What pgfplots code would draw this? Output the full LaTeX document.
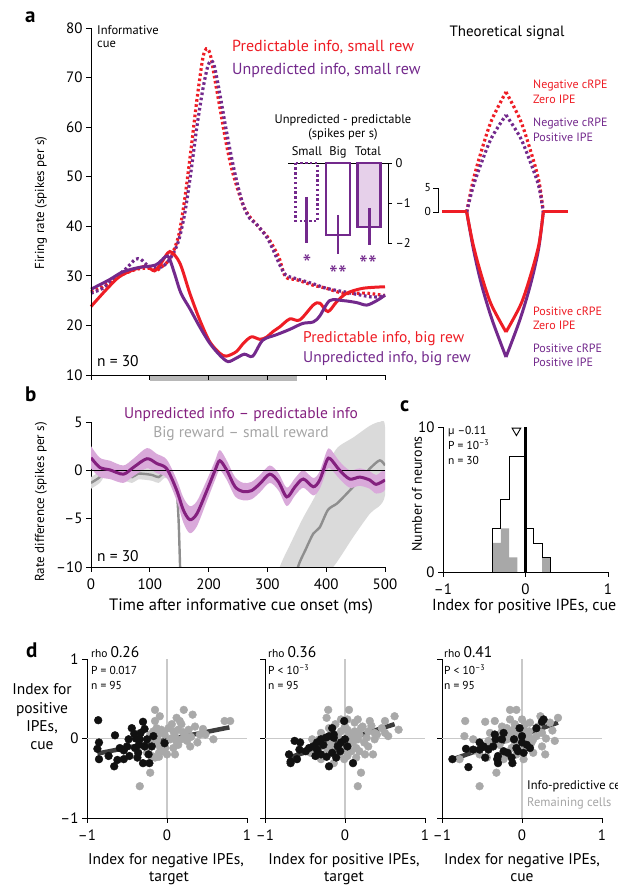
\documentclass[border=0pt]{standalone}
\usepackage{pgfplots}
\pgfplotsset{compat=1.18}
\usepackage{pgfplotstable}
\usepackage{fontspec}
\setmainfont{PT Sans}
\definecolor{myred}{HTML}{EE1D25}
\definecolor{mypurple}{HTML}{73298C}
\definecolor{bpurple}{HTML}{84207F}
\definecolor{bband}{HTML}{D9A9DA}
\definecolor{tfill}{HTML}{E6D0EA}
\definecolor{gline}{HTML}{8E8E8E}
\definecolor{gband}{HTML}{DADADA}
\definecolor{gtext}{HTML}{A5A5A5}
\definecolor{cgray}{HTML}{A8A8A8}
\definecolor{dgray}{HTML}{A9A9A9}
\definecolor{dblack}{HTML}{111111}
\definecolor{gridc}{HTML}{C9C9C9}
\definecolor{regl}{HTML}{3D3D3D}
\definecolor{barc}{HTML}{B8B8B8}
\newcommand\fs[1]{\fontsize{#1}{#1}\selectfont}
\pgfplotsset{
  base/.style={scale only axis, anchor=south west,
    axis x line*=bottom, axis y line*=left,
    axis line style={-, line width=0.9pt, black},
    every tick/.style={line width=0.9pt, black},
    major tick length=5pt, tick align=outside,
    ticklabel style={font=\fs{15}}},
  dotline/.style={line width=3.2pt, dash pattern=on 2.6pt off 2.6pt},
  dax/.style={base, width=160pt, height=159pt, xmin=-1, xmax=1, ymin=-1, ymax=1,
    xtick={-1,0,1}, xticklabels={–1,0,1}, xticklabel style={yshift=-3pt}, ytick={-1,0,1}, clip=false},
  gpts/.style={only marks, mark=*, mark size=3.9pt, mark options={fill=dgray, draw=dgray}},
  kpts/.style={only marks, mark=*, mark size=3.9pt, mark options={fill=dblack, draw=dblack}},
}
\pgfplotstableread{
t m
0 1.3
15 0.3
32 0.05
55 -0.4
72 0.3
95 1.2
112 0.7
129 0.15
146 -2.1
157 -4.1
168 -5.1
180 -4.5
197 -2.1
211 0
219 1.0
231 0
245 -1.7
259 -2.2
273 -2.1
287 -1.4
304 -0.4
319 -1.2
333 -2.75
347 -1.7
361 -0.9
378 -1.7
389 -1.0
401 1.0
407 1.2
423 0
440 -0.9
457 -0.7
474 -1.0
485 -1.45
500 -1.0
}\bpurp
\pgfplotstableread{
t m
0 -1.3
15 -0.7
25 0.05
40 0
55 -0.4
70 -0.7
80 -0.35
95 -0.4
105 -0.5
115 -0.7
125 -0.2
135 -0.4
141 -1.0
146 -2.4
149 -5.2
151.5 -10
153 -13
}\bgrayA
\pgfplotstableread{
t m
345 -12.5
352 -10
365 -8.2
378 -6.55
389 -5.9
403 -4.1
418 -3.45
432 -2.6
446 -1.7
460 -0.8
474 0.17
491 1.03
500 0.5
}\bgrayBm
\begin{document}
\begin{tikzpicture}[x=1pt,y=1pt]
\useasboundingbox (0,0) rectangle (618,886);

%%%%%%%% Panel a main
\begin{axis}[base, at={(91pt,511pt)}, width=294pt, height=347pt,
  xmin=0, xmax=500, ymin=10, ymax=80,
  xtick={0,100,200,300,400,500}, xticklabels={},
  ytick={10,20,30,40,50,60,70,80}, yticklabels={10,20,30,40,50,60,70,80},
  clip=false, axis on top]
\fill[barc] (axis cs:100,10) rectangle (axis cs:350,8.7);
\addplot[myred, dotline, smooth] coordinates {(0,26.8) (20,27.8) (40,29.5) (60,30.6) (80,31.4) (100,31.5) (110,31.0) (120,31.8) (130,32.8) (140,34.9) (150,38.6) (160,46) (170,55.4) (180,65.4) (190,73.8) (196,75.8) (201,75.3) (205,73.5) (210,70.1) (220,63.4) (230,56.7) (240,51.3) (250,47.3) (260,43.9) (270,41.9) (280,40.6) (290,39.2) (300,37.9) (310,35.9) (320,33.6) (331,29.8) (350,29.2) (378,28.1) (400,27.5) (429,26.5) (469,26.5) (500,26.0)};
\addplot[mypurple, dotline, smooth] coordinates {(0,26.5) (20,27.5) (40,29.5) (60,31.5) (75,33.3) (85,33.3) (100,31.8) (120,31.8) (130,32.8) (140,34.5) (150,37.5) (160,43) (170,51) (180,60) (190,67.5) (198,72) (204,73.4) (210,72.2) (220,66.1) (230,59.4) (240,53.3) (250,48.0) (260,43.9) (270,41.6) (280,40.6) (290,39.2) (300,37.6) (310,35.2) (320,32.5) (331,30.2) (350,29.4) (378,28.4) (400,27.5) (434,26.7) (480,25.7) (500,26.1)};
\addplot[myred, line width=3pt, smooth] coordinates {(0,23.8) (25,27.1) (48,29.8) (74,31.3) (94,31.9) (108,31.0) (119,32.5) (134,34.9) (151,32.6) (168,26.5) (185,21.1) (202,16.7) (219,14.4) (230,13.8) (247,14.7) (260,16.5) (273,17.7) (287,17.2) (298,17.6) (310,18.8) (321,19.7) (338,21.3) (355,21.1) (378,24.1) (389,24.5) (403,22.8) (418,24.8) (435,26.5) (463,27.5) (500,27.8)};
\addplot[mypurple, line width=3pt, smooth] coordinates {(0,27.3) (31,29.2) (54,30.8) (82,31.7) (110,32.2) (127,33.9) (133,33.6) (142,30.5) (153,26.5) (168,23.4) (185,19.7) (202,16.4) (219,14.0) (233,12.7) (247,13.4) (261,14.2) (275,13.8) (292,17.0) (315,18.1) (338,19.2) (360,20.4) (378,20.7) (389,21.9) (406,25.0) (429,25.0) (452,24.6) (469,24.1) (486,25.0) (500,26.1)};
\end{axis}

%%%%%%%% Inset
\begin{axis}[scale only axis, anchor=south west, at={(288pt,643pt)}, width=100pt, height=80pt,
  xmin=-0.6, xmax=2.6, ymin=-2, ymax=0,
  axis x line*=top, axis y line*=right, axis line style={-, line width=0.9pt, black},
  xtick=\empty, ytick={-2,-1,0}, yticklabels={–2,–1,0},
  every tick/.style={line width=0.9pt, black}, major tick length=4pt, tick align=outside,
  ticklabel style={font=\fs{12.5}}, clip=false]
\addplot[ybar, bar width=0.71, bar shift=0pt, draw=mypurple, fill=none, line width=2.8pt, dash pattern=on 2.4pt off 2.4pt] coordinates {(0,-1.45)};
\addplot[ybar, bar width=0.77, bar shift=0pt, draw=mypurple, fill=white, line width=2.8pt] coordinates {(1,-1.8)};
\addplot[ybar, bar width=0.74, bar shift=0pt, draw=mypurple, fill=tfill, line width=2.8pt] coordinates {(2,-1.6)};
\addplot[mypurple, line width=2.8pt] coordinates {(0,-0.85) (0,-2.0)};
\addplot[mypurple, line width=2.8pt] coordinates {(1,-1.3) (1,-2.28)};
\addplot[mypurple, line width=2.8pt] coordinates {(2,-1.13) (2,-2.05)};
\end{axis}

%%%%%%%% Theoretical signal
\begin{axis}[scale only axis, hide axis, anchor=south west, at={(442pt,519pt)}, width=126pt, height=285pt,
  xmin=0, xmax=126, ymin=-31, ymax=26, clip=false]
\addplot[mypurple, line width=3pt, smooth] coordinates {(24.7,0) (31.5,-7.5) (39.5,-14.5) (50,-21.5) (64,-29)};
\addplot[mypurple, line width=3pt, smooth] coordinates {(64,-29) (78,-21.5) (88.5,-14.5) (96.5,-7.5) (101.3,0)};
\addplot[myred, line width=3pt, smooth] coordinates {(24.7,0) (31,-6.4) (39,-12.4) (49,-18.4) (64,-24)};
\addplot[myred, line width=3pt, smooth] coordinates {(64,-24) (79,-18.4) (89,-12.4) (97,-6.4) (101.3,0)};
\addplot[myred, dotline, smooth] coordinates {(24.7,0) (31.3,6.4) (39.7,12.4) (49.7,18.4) (64,24)};
\addplot[myred, dotline, smooth] coordinates {(64,24) (78.3,18.4) (88.3,12.4) (96.7,6.4) (101.3,0)};
\addplot[mypurple, dotline, smooth] coordinates {(24.7,0) (31.3,5.2) (39.7,10) (49.7,14.9) (64,19.4)};
\addplot[mypurple, dotline, smooth] coordinates {(64,19.4) (78.3,14.9) (88.3,10) (96.7,5.2) (101.3,0)};
\addplot[myred, line width=3pt] coordinates {(0,0) (25,0)};
\addplot[myred, line width=3pt] coordinates {(101,0) (126,0)};
\end{axis}

%%%%%%%% Panel b
\begin{axis}[base, at={(91pt,319pt)}, width=294pt, height=145pt,
  xmin=0, xmax=500, ymin=-10, ymax=5,
  xtick={0,100,200,300,400,500}, xticklabels={0,100,200,300,400,500},
  xticklabel style={yshift=-3pt},
  ytick={-10,-5,0,5}, yticklabels={–10,–5,0,5}]
\addplot[fill=gband, draw=none, smooth] coordinates {(0,-0.7) (15,-0.1) (25,0.6) (40,0.6) (55,0.2) (70,-0.1) (80,0.25) (95,0.2) (105,0.1) (115,-0.1) (125,0.4) (135,0.2) (141,-0.4) (146,-1.6) (149,-4.2) (151.5,-9) (153,-12) (153,-14) (151.5,-11) (149,-6.2) (146,-3.2) (141,-1.7) (135,-1.0) (125,-0.8) (115,-1.3) (105,-1.1) (95,-1.0) (80,-0.95) (70,-1.3) (55,-1.0) (40,-0.6) (25,-0.5) (15,-1.3) (0,-1.9)};
\addplot[fill=gband, draw=none, smooth] coordinates {(300,-14) (321,-10) (340,-7.5) (360,-5) (380,-2.8) (389,-1.5) (406,1.0) (420,2.4) (446,3.4) (474,4.6) (491,5.0) (500,4.5) (500,-2.6) (474,-4.5) (446,-6.9) (412,-10) (389,-11) (300,-20)};
\addplot[gline, line width=2.4pt, smooth] table[x=t, y=m] {\bgrayA};
\addplot[gline, line width=2.4pt, smooth] table[x=t, y=m] {\bgrayBm};
\addplot[fill=bband, draw=none, smooth] coordinates {(0,2.5) (15,1.3) (32,1.0) (55,0.5) (72,1.2) (95,2.3) (112,1.7) (129,1.1) (146,-1.0) (157,-2.8) (168,-3.7) (180,-3.2) (197,-1.0) (211,1.0) (219,2.1) (231,1.0) (245,-0.7) (259,-1.3) (273,-1.2) (287,-0.5) (304,0.5) (319,-0.3) (333,-1.8) (347,-0.8) (361,0.0) (378,-0.8) (389,-0.1) (401,2.0) (407,2.2) (423,0.9) (440,0.0) (457,0.2) (474,-0.1) (485,-0.5) (500,0.0) (500,-2.0) (485,-2.4) (474,-1.9) (457,-1.6) (440,-1.8) (423,-0.9) (407,0.2) (401,0.0) (389,-1.9) (378,-2.6) (361,-1.8) (347,-2.6) (333,-3.7) (319,-2.1) (304,-1.3) (287,-2.3) (273,-3.0) (259,-3.1) (245,-2.7) (231,-1.0) (219,0.0) (211,-1.0) (197,-3.2) (180,-5.8) (168,-6.5) (157,-5.4) (146,-3.2) (129,-0.8) (112,-0.3) (95,0.2) (72,-0.6) (55,-1.3) (32,-0.9) (15,-0.7) (0,0.2)};
\addplot[black, line width=0.8pt] coordinates {(0,0) (500,0)};
\addplot[bpurple, line width=3pt, smooth] table[x=t, y=m] {\bpurp};
\end{axis}

%%%%%%%% Panel c
\begin{axis}[base, at={(443pt,314pt)}, width=165pt, height=145pt,
  xmin=-1, xmax=1, ymin=0, ymax=10,
  xtick={-1,0,1}, xticklabels={–1,0,1}, xticklabel style={yshift=-3pt},
  ytick={0,10}, yticklabels={0,10}, clip=false]
\addplot[fill=cgray, draw=none] coordinates {(-0.4,0) (-0.4,2) (-0.3,2) (-0.3,3) (-0.2,3) (-0.2,1) (-0.1,1) (-0.1,0)};
\addplot[fill=cgray, draw=none] coordinates {(0.2,0) (0.2,1) (0.3,1) (0.3,0)};
\addplot[black, line width=0.9pt] coordinates {(-0.4,0) (-0.4,3) (-0.3,3) (-0.3,5) (-0.2,5) (-0.2,8) (0,8) (0,3) (0.1,3) (0.1,2) (0.2,2) (0.2,1) (0.3,1) (0.3,0)};
\addplot[black, line width=3pt] coordinates {(0,0) (0,10)};
\addplot[only marks, mark=triangle, mark size=5pt, mark options={rotate=180, line width=0.9pt, fill=white, draw=black}] coordinates {(-0.11,9.75)};
\end{axis}

%%%%%%%% Panel d1
\begin{axis}[dax, at={(87pt,68pt)}, yticklabels={–1,0,1}]
\addplot[gridc, line width=1.4pt] coordinates {(0,-1) (0,1)};
\addplot[gridc, line width=1.4pt] coordinates {(-1,0) (1,0)};
\addplot[gpts] coordinates {(-0.34,-0.60) (-0.21,-0.43) (-0.15,0.36) (-0.09,0.28) (-0.15,0.22) (-0.13,0.13) (-0.17,0.09) (-0.11,0.05) (-0.21,0.05) (-0.07,0.11) (0.02,0.13) (0.08,0.09) (0.12,0.26) (0.21,0.36) (0.32,0.30) (0.18,0.18) (0.27,0.11) (0.41,0.05) (0.58,-0.01) (-0.13,-0.03) (-0.09,-0.10) (-0.05,-0.16) (0.0,-0.20) (0.08,-0.12) (0.14,-0.08) (0.18,-0.01) (0.23,0.03) (0.29,-0.10) (0.04,-0.01) (-0.25,-0.18) (-0.19,-0.22) (-0.15,-0.24) (-0.10,-0.23) (0.10,0.03) (0.25,-0.03) (0.14,0.11) (-0.03,0.05) (0.48,0.05) (0.72,0.22) (0.79,0.22) (-0.12,0.0) (-0.05,0.08) (0.05,0.0) (0.12,-0.04) (0.2,0.08) (0.3,0.02) (-0.02,-0.12) (0.1,-0.2) (0.35,0.15) (-0.1,-0.18) (0.45,0.12) (0.16,0.22) (-0.17,-0.05) (0.06,0.18) (0.38,-0.05)};
\addplot[regl, line width=4.5pt] coordinates {(-0.87,-0.19) (0.78,0.14)};
\addplot[kpts] coordinates {(-0.86,0.23) (-0.85,-0.05) (-0.87,-0.13) (-0.85,-0.26) (-0.73,-0.22) (-0.66,-0.35) (-0.65,0.04) (-0.54,-0.15) (-0.54,-0.26) (-0.50,-0.10) (-0.48,-0.01) (-0.44,0.13) (-0.41,0.06) (-0.39,0.0) (-0.40,-0.12) (-0.37,-0.24) (-0.35,-0.08) (-0.33,0.07) (-0.30,0.21) (-0.28,0.12) (-0.28,-0.10) (-0.30,-0.31) (-0.22,-0.31) (-0.25,-0.01) (-0.17,0.03) (-0.19,-0.10) (-0.03,-0.06) (-0.47,-0.22) (-0.59,-0.12) (-0.62,-0.27) (-0.36,-0.18) (-0.23,-0.20) (-0.34,-0.01)};
\end{axis}

%%%%%%%% Panel d2
\begin{axis}[dax, at={(265pt,68pt)}, yticklabels={}]
\addplot[gridc, line width=1.4pt] coordinates {(0,-1) (0,1)};
\addplot[gridc, line width=1.4pt] coordinates {(-1,0) (1,0)};
\addplot[gpts] coordinates {(-0.23,0.26) (-0.21,0.36) (0.05,0.36) (-0.05,0.24) (0.03,0.24) (0.16,0.24) (0.31,0.22) (0.50,0.22) (0.62,0.28) (0.67,0.11) (0.50,0.07) (0.37,-0.01) (0.29,0.09) (0.20,0.13) (0.12,0.09) (0.10,0.03) (0.16,-0.01) (0.24,-0.05) (0.14,-0.12) (0.18,-0.16) (0.08,-0.16) (0.03,-0.22) (-0.01,-0.26) (0.20,-0.43) (0.16,-0.60) (0.35,-0.20) (-0.18,-0.05) (-0.09,0.03) (-0.30,0.07) (-0.32,-0.01) (-0.14,-0.14) (-0.07,-0.20) (-0.22,-0.14) (-0.05,0.09) (0.05,0.05) (0.37,0.07) (0.03,0.11) (-0.20,0.13) (0.08,-0.05) (0.29,-0.10) (0.54,0.03) (0.46,0.13) (-0.03,-0.10) (0.18,0.05) (-0.30,-0.26) (-0.41,-0.01) (-0.14,-0.31) (0.14,-0.24) (-0.01,-0.14) (0.27,0.01) (-0.43,-0.18) (0.0,0.15) (0.1,-0.05) (0.22,0.15) (-0.12,0.18) (0.4,0.05) (0.25,-0.2) (-0.05,-0.02) (0.12,0.2) (0.33,0.16) (-0.18,-0.1)};
\addplot[regl, line width=4.5pt] coordinates {(-0.70,-0.24) (0.62,0.18)};
\addplot[kpts] coordinates {(-0.70,-0.20) (-0.68,-0.29) (-0.68,-0.31) (-0.60,-0.26) (-0.57,-0.14) (-0.49,-0.16) (-0.45,-0.12) (-0.40,-0.10) (-0.35,-0.14) (-0.30,-0.01) (-0.27,-0.08) (-0.23,-0.23) (-0.20,-0.35) (-0.16,0.13) (-0.14,0.05) (-0.14,0.01) (-0.09,-0.10) (-0.06,-0.16) (-0.01,0.22) (0.0,-0.01) (0.03,-0.10) (0.10,-0.31) (-0.63,-0.03) (-0.56,-0.05) (-0.37,-0.22) (-0.24,0.01) (-0.20,0.03) (-0.30,-0.20) (-0.16,-0.18) (-0.11,-0.24) (-0.05,-0.05) (-0.35,-0.05)};
\end{axis}

%%%%%%%% Panel d3
\begin{axis}[dax, at={(442pt,68pt)}, yticklabels={}]
\addplot[gridc, line width=1.4pt] coordinates {(0,-1) (0,1)};
\addplot[gridc, line width=1.4pt] coordinates {(-1,0) (1,0)};
\addplot[gpts] coordinates {(-0.71,0.22) (-0.72,0.03) (-0.78,-0.26) (-0.61,-0.01) (-0.53,-0.60) (-0.46,0.21) (-0.34,0.22) (-0.32,-0.43) (-0.15,0.36) (-0.07,0.36) (-0.15,0.24) (-0.25,0.09) (-0.40,0.07) (-0.19,0.13) (-0.13,0.07) (-0.09,0.18) (0.0,0.24) (0.10,0.20) (0.23,0.28) (0.35,0.20) (0.45,0.26) (0.41,-0.03) (0.25,-0.10) (0.29,-0.20) (0.14,-0.18) (0.06,0.01) (-0.05,-0.05) (-0.13,-0.12) (-0.21,-0.18) (-0.23,-0.26) (-0.05,0.05) (-0.15,0.01) (-0.28,-0.08) (0.02,0.11) (0.18,0.03) (0.09,0.09) (-0.42,-0.03) (-0.53,-0.20) (-0.19,-0.01) (0.04,0.18) (-0.11,0.11) (-0.44,-0.24) (0.14,-0.01) (0.25,0.07) (-0.30,0.03) (-0.07,-0.20) (0.02,-0.26) (-0.05,0.12) (0.08,0.05) (-0.2,0.05) (0.2,0.15) (-0.1,-0.1) (0.3,0.0) (-0.35,-0.05) (0.12,-0.05) (-0.25,0.15) (0.0,-0.1) (0.38,0.1) (-0.6,-0.15)};
\addplot[regl, line width=4.5pt] coordinates {(-0.86,-0.26) (0.45,0.20)};
\addplot[kpts] coordinates {(-0.87,-0.26) (-0.70,-0.13) (-0.67,-0.36) (-0.61,-0.14) (-0.53,-0.14) (-0.53,-0.05) (-0.48,-0.10) (-0.46,-0.24) (-0.42,-0.14) (-0.36,-0.10) (-0.34,0.05) (-0.33,-0.01) (-0.31,-0.26) (-0.30,-0.22) (-0.30,-0.31) (-0.23,0.07) (-0.23,-0.16) (-0.18,-0.18) (-0.13,-0.24) (-0.12,-0.31) (-0.10,-0.01) (-0.07,-0.12) (-0.05,-0.16) (-0.03,0.13) (0.0,0.03) (0.0,-0.05) (0.02,-0.18) (0.06,-0.08) (0.10,-0.12) (0.18,0.13) (0.25,0.21) (0.27,0.24) (-0.25,-0.01)};
\end{axis}

%%%%%%%% Text: panel a
\node[anchor=base west, font=\fs{21}\bfseries, inner sep=0] at (25,863) {a};
\node[anchor=base west, font=\fs{12.5}, inner sep=0] at (97,851) {Informative};
\node[anchor=base west, font=\fs{12.5}, inner sep=0] at (97,838) {cue};
\node[anchor=base west, font=\fs{16}, text=myred, inner sep=0] at (232,834) {Predictable info, small rew};
\node[anchor=base west, font=\fs{16}, text=mypurple, inner sep=0] at (232,811) {Unpredicted info, small rew};
\node[anchor=base west, font=\fs{15.5}, inner sep=0] at (97,519) {n = 30};
\node[anchor=base west, font=\fs{15.5}, text=myred, inner sep=0] at (303,543) {Predictable info, big rew};
\node[anchor=base west, font=\fs{15.5}, text=mypurple, inner sep=0] at (303,523) {Unpredicted info, big rew};
\node[rotate=90, font=\fs{13}, inner sep=0] at (41,683) {Firing rate (spikes per s)};
% inset text
\node[anchor=base, font=\fs{12.5}, inner sep=0] at (343,762) {Unpredicted - predictable};
\node[anchor=base, font=\fs{12.5}, inner sep=0] at (343,748) {(spikes per s)};
\node[anchor=base, font=\fs{12.5}, inner sep=0] at (307,730) {Small};
\node[anchor=base, font=\fs{12.5}, inner sep=0] at (338,730) {Big};
\node[anchor=base, font=\fs{12.5}, inner sep=0] at (368,730) {Total};
\node[font=\fs{25}, text=mypurple, inner sep=0] at (307,622) {*};
\node[font=\fs{25}, text=mypurple, inner sep=0] at (338,611) {**};
\node[font=\fs{25}, text=mypurple, inner sep=0] at (368,621) {**};
% theoretical
\node[anchor=base, font=\fs{15}, inner sep=0] at (507,849) {Theoretical signal};
\node[anchor=base west, font=\fs{12}, text=myred, inner sep=0] at (533,797) {Negative cRPE};
\node[anchor=base west, font=\fs{12}, text=myred, inner sep=0] at (533,782) {Zero IPE};
\node[anchor=base west, font=\fs{12}, text=mypurple, inner sep=0] at (533,759) {Negative cRPE};
\node[anchor=base west, font=\fs{12}, text=mypurple, inner sep=0] at (533,744) {Positive IPE};
\node[anchor=base west, font=\fs{12}, text=myred, inner sep=0] at (533,570) {Positive cRPE};
\node[anchor=base west, font=\fs{12}, text=myred, inner sep=0] at (533,556) {Zero IPE};
\node[anchor=base west, font=\fs{12}, text=mypurple, inner sep=0] at (533,533) {Positive cRPE};
\node[anchor=base west, font=\fs{12}, text=mypurple, inner sep=0] at (533,519) {Positive IPE};
\node[anchor=base east, font=\fs{11.5}, inner sep=0] at (431,694) {5};
\node[anchor=base east, font=\fs{11.5}, inner sep=0] at (431,670) {0};
\draw[line width=0.8pt] (433,698) -- (438,698) -- (438,674) -- (433,674);
%%%%%%%% Text: panel b
\node[anchor=base west, font=\fs{21}\bfseries, inner sep=0] at (25,484) {b};
\node[rotate=90, font=\fs{13}, inner sep=0] at (41,384) {Rate difference (spikes per s)};
\node[anchor=base, font=\fs{15.5}, text=bpurple, inner sep=0] at (241,467) {Unpredicted info – predictable info};
\node[anchor=base, font=\fs{15.5}, text=gtext, inner sep=0] at (241,448) {Big reward – small reward};
\node[anchor=base west, font=\fs{15.5}, inner sep=0] at (97,324) {n = 30};
\node[anchor=base, font=\fs{16.5}, inner sep=0] at (241,275) {Time after informative cue onset (ms)};
%%%%%%%% Text: panel c
\node[anchor=base west, font=\fs{21}\bfseries, inner sep=0] at (400,474) {c};
\node[rotate=90, font=\fs{14}, inner sep=0] at (417,392) {Number of neurons};
\node[anchor=base west, font=\fs{16}, inner sep=0] at (432,275) {Index for positive IPEs, cue};
\node[anchor=base west, font=\fs{11.5}, inner sep=0] at (448,451) {µ –0.11};
\node[anchor=base west, font=\fs{11.5}, inner sep=0] at (448,436) {P = 10\textsuperscript{–3}};
\node[anchor=base west, font=\fs{11.5}, inner sep=0] at (448,421) {n = 30};
%%%%%%%% Text: panel d
\node[anchor=base west, font=\fs{21}\bfseries, inner sep=0] at (26,228) {d};
\node[anchor=base, font=\fs{15.5}, inner sep=0] at (42,191) {Index for};
\node[anchor=base, font=\fs{15.5}, inner sep=0] at (42,172) {positive};
\node[anchor=base, font=\fs{15.5}, inner sep=0] at (42,154) {IPEs,};
\node[anchor=base, font=\fs{15.5}, inner sep=0] at (42,136) {cue};
\node[anchor=base west, inner sep=0] at (91,228) {\fs{11.5}rho \fs{15.5}0.26};
\node[anchor=base west, font=\fs{11.5}, inner sep=0] at (91,211) {P = 0.017};
\node[anchor=base west, font=\fs{11.5}, inner sep=0] at (91,196) {n = 95};
\node[anchor=base west, inner sep=0] at (268,228) {\fs{11.5}rho \fs{15.5}0.36};
\node[anchor=base west, font=\fs{11.5}, inner sep=0] at (268,211) {P < 10\textsuperscript{–3}};
\node[anchor=base west, font=\fs{11.5}, inner sep=0] at (268,196) {n = 95};
\node[anchor=base west, inner sep=0] at (444,228) {\fs{11.5}rho \fs{15.5}0.41};
\node[anchor=base west, font=\fs{11.5}, inner sep=0] at (444,211) {P < 10\textsuperscript{–3}};
\node[anchor=base west, font=\fs{11.5}, inner sep=0] at (444,196) {n = 95};
\node[anchor=base, font=\fs{15.5}, inner sep=0] at (166,21) {Index for negative IPEs,};
\node[anchor=base, font=\fs{15.5}, inner sep=0] at (169,5) {target};
\node[anchor=base, font=\fs{15.5}, inner sep=0] at (344,21) {Index for positive IPEs,};
\node[anchor=base, font=\fs{15.5}, inner sep=0] at (344,5) {target};
\node[anchor=base, font=\fs{15.5}, inner sep=0] at (522,21) {Index for negative IPEs,};
\node[anchor=base, font=\fs{15.5}, inner sep=0] at (522,5) {cue};
\node[anchor=base west, font=\fs{12.5}, inner sep=0] at (527,96) {Info-predictive cells};
\node[anchor=base west, font=\fs{12.5}, text=gtext, inner sep=0] at (527,79) {Remaining cells};
\end{tikzpicture}
\end{document}
